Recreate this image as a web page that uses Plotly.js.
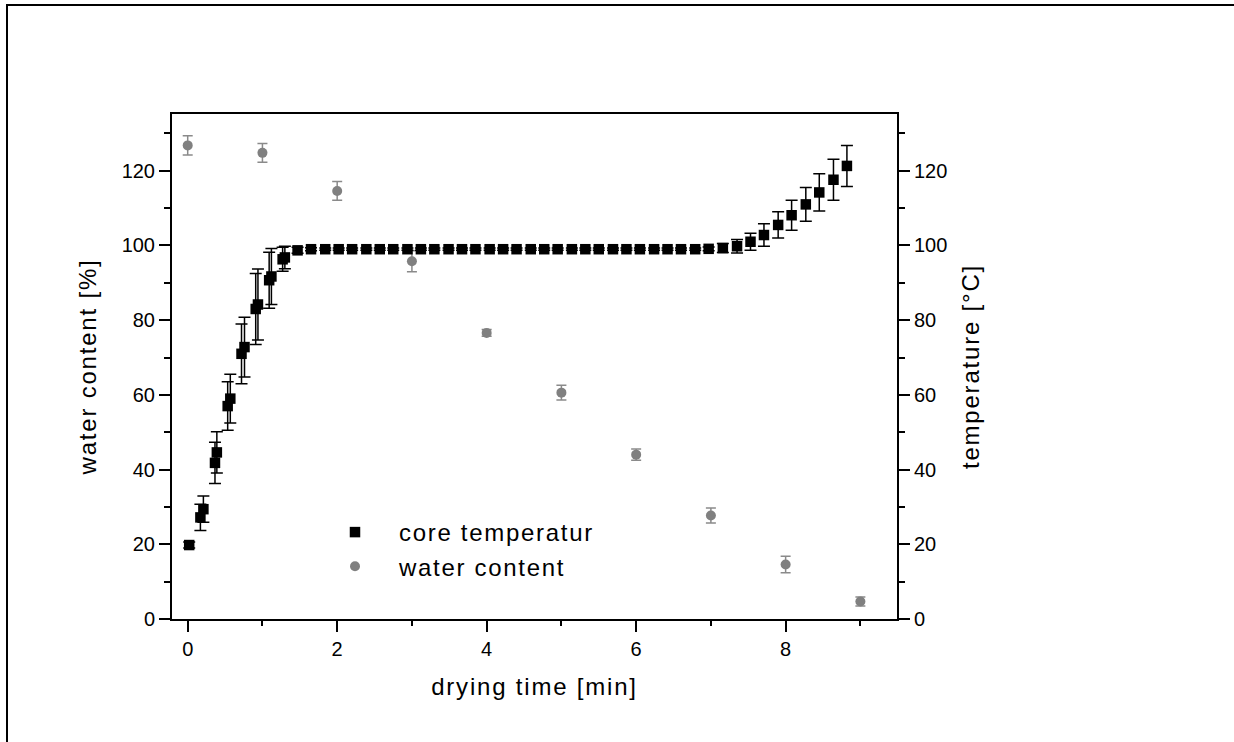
<!DOCTYPE html>
<html>
<head>
<meta charset="utf-8">
<script src="https://cdn.plot.ly/plotly-3.0.1.min.js"></script>
<style>
  html, body { margin: 0; padding: 0; background: #fff; overflow: hidden; }
  #wrap { position: relative; width: 1234px; height: 742px; overflow: hidden; }
  #chart { position: absolute; left: 0; top: 0; width: 1234px; height: 742px; }
  #frame { position: absolute; left: 6px; top: 4px; width: 1240px; height: 760px;
           border-left: 2.5px solid #000; border-top: 2.5px solid #000; pointer-events: none; }
  .legendtext { letter-spacing: 1.7px; }
  .xtitle, .ytitle, .y2title { letter-spacing: 1.8px; }
</style>
</head>
<body>
<div id="wrap">
  <div id="chart"></div>
  <div id="frame"></div>
</div>
<script>
// ---- data ----
const coreTime = [0.02, 0.17, 0.21, 0.365, 0.39, 0.535, 0.57, 0.72, 0.76, 0.91, 0.94, 1.09, 1.12, 1.27, 1.30,
  1.47, 1.65, 1.84, 2.02, 2.20, 2.39, 2.57, 2.75, 2.94, 3.12, 3.30, 3.49, 3.67, 3.85, 4.04, 4.22, 4.40, 4.59,
  4.77, 4.95, 5.14, 5.32, 5.50, 5.69, 5.87, 6.05, 6.24, 6.42, 6.60, 6.79, 6.97, 7.16, 7.35, 7.53, 7.71, 7.90,
  8.08, 8.27, 8.45, 8.64, 8.82];
const coreTemp = [19.8, 27.2, 29.4, 41.8, 44.6, 57.0, 59.0, 71.0, 72.8, 83.0, 84.2, 90.7, 91.7, 96.3, 96.8,
  98.7, 99.0, 99.0, 99.0, 99.0, 99.0, 99.0, 99.0, 99.0, 99.0, 99.0, 99.0, 99.0, 99.0, 99.0, 99.0, 99.0, 99.0,
  99.0, 99.0, 99.0, 99.0, 99.0, 99.0, 99.0, 99.0, 99.0, 99.0, 99.0, 99.0, 99.1, 99.3, 99.8, 101.0, 102.8, 105.5,
  108.1, 111.0, 114.2, 117.6, 121.3];
const coreErr = [0.8, 3.5, 3.5, 5.5, 5.5, 6.5, 6.5, 8.0, 8.0, 9.5, 9.5, 7.5, 7.5, 3.2, 3.0,
  0.8, 0.4, 0.3, 0.3, 0.3, 0.3, 0.3, 0.3, 0.3, 0.3, 0.3, 0.3, 0.3, 0.3, 0.3, 0.3, 0.3, 0.3,
  0.3, 0.3, 0.3, 0.3, 0.3, 0.3, 0.3, 0.3, 0.3, 0.3, 0.3, 0.3, 0.5, 1.2, 1.8, 2.3, 3.0, 3.5,
  4.0, 4.5, 5.0, 5.5, 5.5];

const waterTime = [0, 1, 2, 3, 4, 5, 6, 7, 8, 9];
const waterContent = [126.8, 124.8, 114.6, 95.8, 76.6, 60.6, 44.0, 27.7, 14.6, 4.7];
const waterErr = [2.6, 2.5, 2.5, 2.8, 0.9, 2.0, 1.5, 2.0, 2.2, 1.2];

const xTitle = 'drying time [min]';
const yTitle = 'water content [%]';
const y2Title = 'temperature [°C]';
const coreName = 'core temperatur';
const waterName = 'water content';

// ---- geometry helpers (plot area in pixels) ----
const L = 172, R = 897, T = 114, B = 619, W = 1234, H = 742;
const px = x => (x - L) / (R - L);
const py = y => (B - y) / (B - T);

const FONT = 'Liberation Sans, Arial, sans-serif';

const traces = [
  {
    x: coreTime, y: coreTemp, name: coreName, type: 'scatter', mode: 'markers',
    yaxis: 'y2',
    marker: { symbol: 'square', size: 10.5, color: '#000000' },
    error_y: { type: 'data', array: coreErr, visible: true, color: '#000000', thickness: 1.5, width: 6 }
  },
  {
    x: waterTime, y: waterContent, name: waterName, type: 'scatter', mode: 'markers',
    yaxis: 'y',
    marker: { symbol: 'circle', size: 10, color: '#808080' },
    error_y: { type: 'data', array: waterErr, visible: true, color: '#8a8a8a', thickness: 1.5, width: 5 }
  }
];

const axisCommon = {
  showgrid: false, zeroline: false, showline: true, linecolor: '#000', linewidth: 2,
  ticks: 'outside', ticklen: 11, tickwidth: 2, tickcolor: '#000',
  tickfont: { family: FONT, size: 20, color: '#000' }
};

const layout = {
  width: W, height: H,
  margin: { l: L, r: W - R, t: T, b: H - B, pad: 0 },
  paper_bgcolor: '#ffffff', plot_bgcolor: '#ffffff',
  font: { family: FONT, color: '#000' },
  showlegend: true,
  legend: {
    x: px(311), y: py(510), xanchor: 'left', yanchor: 'top',
    bgcolor: 'rgba(0,0,0,0)', borderwidth: 0, itemwidth: 78,
    font: { family: FONT, size: 24, color: '#000' },
    tracegroupgap: 0
  },
  xaxis: Object.assign({}, axisCommon, {
    range: [-0.21, 9.49], dtick: 2, tick0: 0, mirror: true,
    minor: { dtick: 1, ticklen: 5, tickwidth: 2, tickcolor: '#000', ticks: 'outside' },
    title: { text: xTitle, font: { family: FONT, size: 24, color: '#000' }, standoff: 19 }
  }),
  yaxis: Object.assign({}, axisCommon, {
    range: [0, 135.2], dtick: 20, tick0: 0,
    minor: { dtick: 10, ticklen: 6, tickwidth: 2, tickcolor: '#000', ticks: 'outside' },
    title: { text: yTitle, font: { family: FONT, size: 24, color: '#000' }, standoff: 18 }
  }),
  yaxis2: Object.assign({}, axisCommon, {
    range: [0, 135.2], dtick: 20, tick0: 0, overlaying: 'y', side: 'right',
    minor: { dtick: 10, ticklen: 6, tickwidth: 2, tickcolor: '#000', ticks: 'outside' },
    title: { text: y2Title, font: { family: FONT, size: 24, color: '#000' }, standoff: 16 }
  })
};

Plotly.newPlot('chart', traces, layout, { staticPlot: true, displayModeBar: false });
</script>
</body>
</html>
